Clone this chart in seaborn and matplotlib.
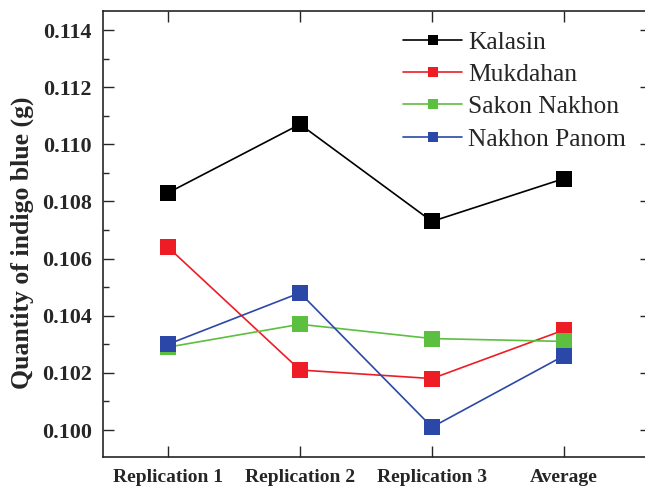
import matplotlib
matplotlib.use("Agg")
import matplotlib.pyplot as plt
import seaborn as sns
import pandas as pd
from matplotlib.ticker import MultipleLocator

categories = ["Replication 1", "Replication 2", "Replication 3", "Average"]
kalasin = [0.1083, 0.1107, 0.1073, 0.1088]
mukdahan = [0.1064, 0.1021, 0.1018, 0.1035]
sakon_nakhon = [0.1029, 0.1037, 0.1032, 0.1031]
nakhon_panom = [0.1030, 0.1048, 0.1001, 0.1026]
series_names = ["Kalasin", "Mukdahan", "Sakon Nakhon", "Nakhon Panom"]
series_values = [kalasin, mukdahan, sakon_nakhon, nakhon_panom]
colors = ["#000000", "#ee1c25", "#5cbf3f", "#2b48a8"]

rows = []
for name, vals in zip(series_names, series_values):
    for c, v in zip(categories, vals):
        rows.append({"Site": name, "Replicate": c, "Quantity": v})
df = pd.DataFrame(rows)

sns.set_style("ticks")
plt.rcParams["font.family"] = ["Liberation Serif", "DejaVu Serif"]
plt.rcParams["xtick.direction"] = "in"
plt.rcParams["ytick.direction"] = "in"

fig = plt.figure(figsize=(6.45, 4.87), dpi=100)
left_px, right_px, top_px, bottom_px = 103, 651, 11, 457
ax = fig.add_axes([left_px/645, (487-bottom_px)/487,
                   (right_px-left_px)/645, (bottom_px-top_px)/487])

sns.lineplot(data=df, x="Replicate", y="Quantity", hue="Site",
             hue_order=series_names, palette=colors, marker="s",
             markersize=11, markeredgewidth=0, linewidth=1.2,
             sort=False, ax=ax, legend=True)

ax.set_xlim(-0.492, 3.659)
ax.set_ylim(0.099055, 0.114665)
ax.yaxis.set_major_locator(MultipleLocator(0.002))
ax.yaxis.set_minor_locator(MultipleLocator(0.001))
ax.set_yticklabels([f"{t:.3f}" for t in ax.get_yticks()])
ax.tick_params(axis="both", which="both", direction="in", top=True, right=True)
ax.tick_params(axis="both", which="major", length=8, width=1.0)
ax.tick_params(axis="y", which="major", labelsize=15.8, pad=8)
ax.tick_params(axis="y", which="minor", length=4, width=1.0)
ax.tick_params(axis="x", which="minor", bottom=False, top=False)
ax.tick_params(axis="x", which="major", labelsize=14, pad=9)
for lab in ax.get_xticklabels() + ax.get_yticklabels():
    lab.set_fontweight("bold")
ax.set_xlabel("")
ax.set_ylabel("Quantity of indigo blue (g)", fontsize=18.5, fontweight="bold")
ax.yaxis.set_label_coords((34 - left_px) / (right_px - left_px),
                          (bottom_px - 243) / (bottom_px - top_px))
for s in ax.spines.values():
    s.set_linewidth(1.2)
    s.set_visible(True)

handles, labels = ax.get_legend_handles_labels()
ax.legend(handles, labels, loc="upper left", bbox_to_anchor=(0.52, 0.99),
          frameon=False, fontsize=18.4, handlelength=2.3, handletextpad=0.25,
          labelspacing=0.37, borderaxespad=0.2, markerscale=0.7)

fig.savefig("out.png", dpi=100)
